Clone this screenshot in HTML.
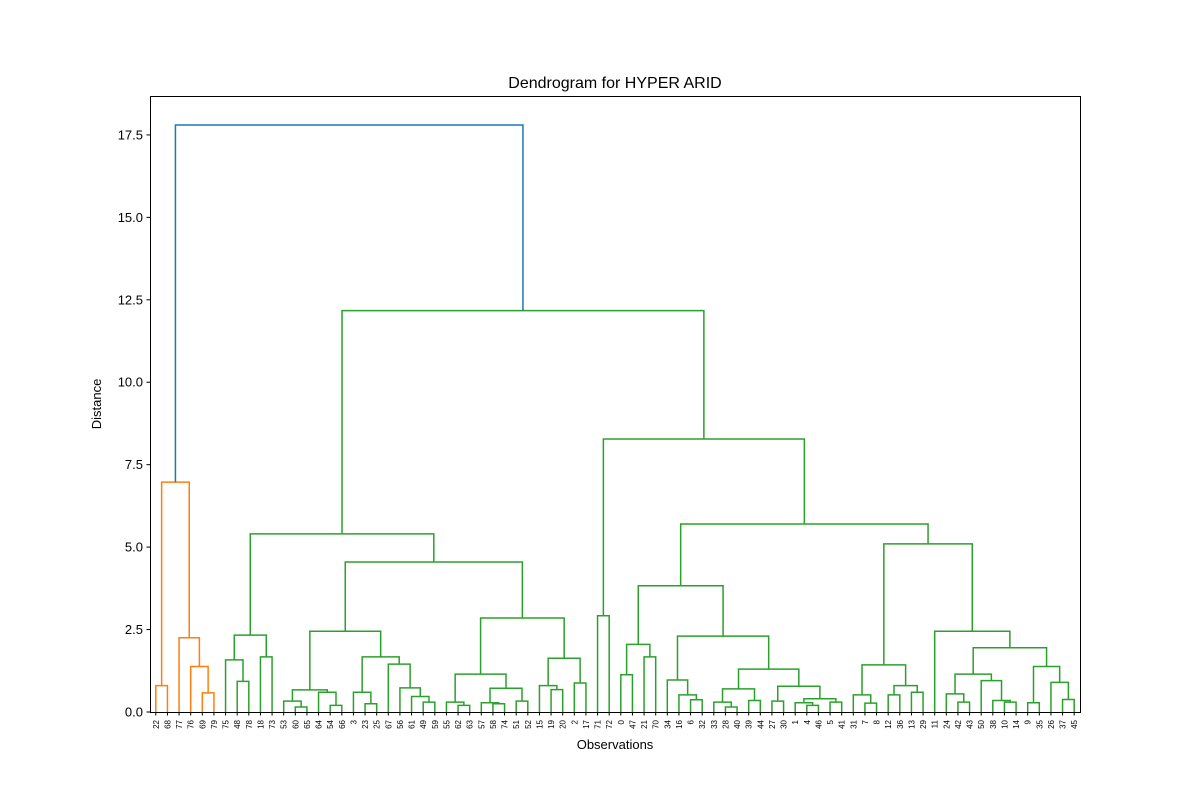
<!DOCTYPE html>
<html><head><meta charset="utf-8"><style>
body{margin:0;background:#fff;width:1200px;height:800px;overflow:hidden}
svg{display:block;font-family:"Liberation Sans","DejaVu Sans",sans-serif}
</style></head><body>
<svg id="chart" width="1200" height="800" xmlns="http://www.w3.org/2000/svg">
<rect width="1200" height="800" fill="#fff"/>
<text x="615" y="88" font-size="16" text-anchor="middle">Dendrogram for HYPER ARID</text>
<text x="615" y="749" font-size="13" text-anchor="middle">Observations</text>
<text transform="translate(101,404) rotate(-90)" font-size="13" text-anchor="middle">Distance</text>
<g id="links"></g><g id="yt"></g><g id="xt"></g>
<rect x="150.5" y="96.5" width="930" height="616" fill="none" stroke="#000" stroke-width="1"/>
</svg>
<script>
// merge tree: [left, right, height]; leaves are observation labels
const orangeTree = [[22,68,0.8],[77,[76,[69,79,0.58],1.38],2.25],6.97];
const leftGreen = [
  [[75,[48,78,0.93],1.58],[18,73,1.67],2.33],
  [
    [[[53,[60,65,0.15],0.33],[64,[54,66,0.2],0.6],0.67],
     [[3,[23,25,0.25],0.6],[67,[56,[61,[49,59,0.3],0.47],0.73],1.45],1.67],2.45],
    [[[55,[62,63,0.2],0.3],[[57,[58,74,0.25],0.28],[51,52,0.33],0.72],1.15],
     [[15,[19,20,0.68],0.8],[2,17,0.88],1.63],2.85],
  4.55],
5.4];
const rightGreen = [[71,72,2.92],
  [
    [[[0,47,1.13],[21,70,1.67],2.05],
     [[34,[16,[6,32,0.37],0.52],0.97],
      [[[33,[28,40,0.15],0.3],[39,44,0.35],0.7],[[27,30,0.33],[[1,[4,46,0.2],0.28],[5,41,0.3],0.4],0.78],1.3],2.3],
    3.83],
    [[[31,[7,8,0.27],0.52],[[12,36,0.52],[13,29,0.6],0.8],1.43],
     [11,[[[24,[42,43,0.3],0.55],[50,[38,[10,14,0.3],0.35],0.95],1.15],
          [[9,35,0.28],[26,[37,45,0.38],0.9],1.38],1.95],2.45],
    5.1],
  5.7],
8.28];
const greenTree = [leftGreen, rightGreen, 12.17];
const rootHeight = 17.8;
const yTicks = [0,2.5,5,7.5,10,12.5,15,17.5];
const yTickLabels = ["0.0","2.5","5.0","7.5","10.0","12.5","15.0","17.5"];

const NS="http://www.w3.org/2000/svg";
const X0=150,W=930,Y0=712,Y1=96,YMAX=18.68,NLEAF=80;
const yS=v=>Y0-(v/YMAX)*(Y0-Y1);
const xS=i=>X0+W*(i+0.5)/NLEAF;
const links=document.getElementById('links'), xt=document.getElementById('xt'), yt=document.getElementById('yt');
let leafIdx=0;
function line(x1,y1,x2,y2,c,name){
  const p=document.createElementNS(NS,'path');
  p.setAttribute('d',`M${x1},${y1}V${y2}H${x2}`);
  p.setAttribute('fill','none');p.setAttribute('stroke',c);p.setAttribute('stroke-width','1.5');
  
  
  links.appendChild(p);
}
function draw(node,color){
  if(typeof node==='number'){
    const x=xS(leafIdx++);
    const t=document.createElementNS(NS,'text');
    t.setAttribute('transform',`translate(${x+3},${Y0+8}) rotate(-90)`);
    t.setAttribute('font-size','8');t.setAttribute('text-anchor','end');
    t.textContent=node;
    
    
    xt.appendChild(t);
    const tk=document.createElementNS(NS,'line');
    tk.setAttribute('x1',x);tk.setAttribute('x2',x);tk.setAttribute('y1',Y0);tk.setAttribute('y2',Y0+3.5);tk.setAttribute('stroke','#000');
    xt.appendChild(tk);
    return {x:x,h:0};
  }
  const a=draw(node[0],color), b=draw(node[1],color), h=node[2];
  const p=document.createElementNS(NS,'path');
  p.setAttribute('d',`M${a.x},${yS(a.h)}V${yS(h)}H${b.x}V${yS(b.h)}`);
  p.setAttribute('fill','none');p.setAttribute('stroke',color);p.setAttribute('stroke-width','1.5');
  
  
  links.appendChild(p);
  return {x:(a.x+b.x)/2,h:h};
}
const o=draw(orangeTree,'#ff7f0e');
const g=draw(greenTree,'#2ca02c');
const rp=document.createElementNS(NS,'path');
rp.setAttribute('d',`M${o.x},${yS(o.h)}V${yS(rootHeight)}H${g.x}V${yS(g.h)}`);
rp.setAttribute('fill','none');rp.setAttribute('stroke','#1f77b4');rp.setAttribute('stroke-width','1.5');


links.appendChild(rp);
yTicks.forEach((v,i)=>{
  const y=yS(v);
  const tk=document.createElementNS(NS,'line');
  tk.setAttribute('x1',146.5);tk.setAttribute('x2',150.5);tk.setAttribute('y1',y);tk.setAttribute('y2',y);tk.setAttribute('stroke','#000');
  yt.appendChild(tk);
  const t=document.createElementNS(NS,'text');
  t.setAttribute('x',143);t.setAttribute('y',y+4.5);t.setAttribute('font-size','13');t.setAttribute('text-anchor','end');
  t.textContent=yTickLabels[i];
  
  
  yt.appendChild(t);
});
</script>
</body></html>
